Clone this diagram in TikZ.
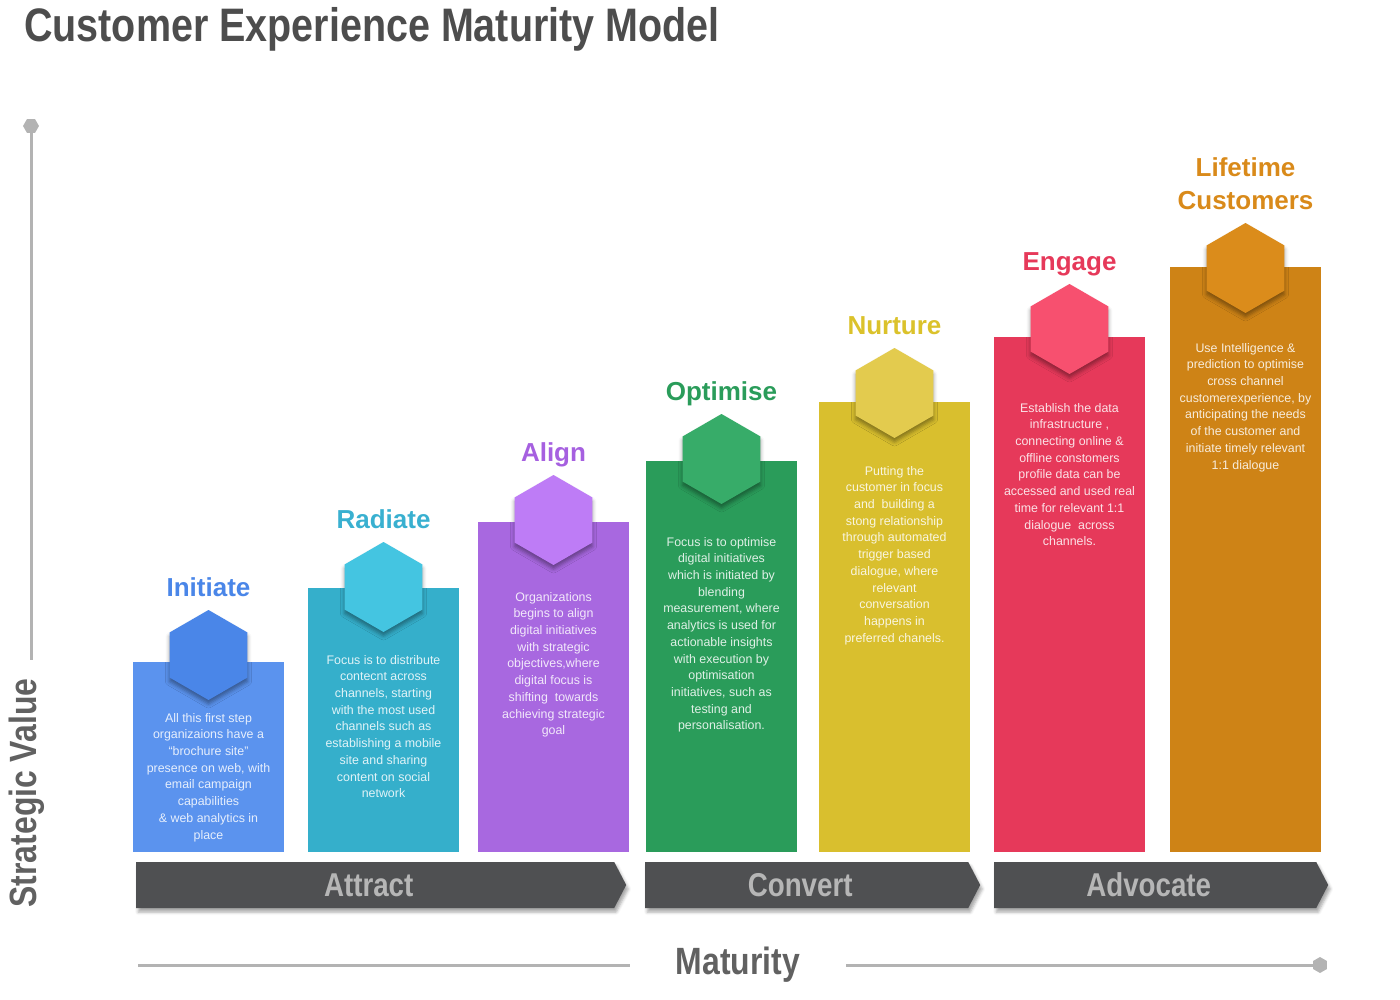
\documentclass[tikz,border=0pt]{standalone}
\usepackage{fontspec}
\setmainfont{Liberation Sans}
\newfontfamily\narrowfont{Liberation Sans}[FakeStretch=0.84]
\usepackage{tikz}
\usetikzlibrary{positioning, shapes.geometric, shapes.symbols, shadows.blur}
\definecolor{barblue}{HTML}{5B93EE}
\definecolor{hexblue}{HTML}{4A86E8}
\definecolor{barcyan}{HTML}{35AFCB}
\definecolor{hexcyan}{HTML}{44C5E1}
\definecolor{headcyan}{HTML}{39B0D0}
\definecolor{barpurple}{HTML}{A868E0}
\definecolor{hexpurple}{HTML}{BE7CF6}
\definecolor{headpurple}{HTML}{A660E0}
\definecolor{bargreen}{HTML}{2A9C5A}
\definecolor{hexgreen}{HTML}{37AC69}
\definecolor{baryellow}{HTML}{D9BF2E}
\definecolor{hexyellow}{HTML}{E3CB4E}
\definecolor{headyellow}{HTML}{DBC22B}
\definecolor{barred}{HTML}{E6395A}
\definecolor{hexred}{HTML}{F7506F}
\definecolor{barorange}{HTML}{CE8316}
\definecolor{hexorange}{HTML}{DB8C1B}
\definecolor{headorange}{HTML}{D98A1A}
\definecolor{stagegray}{HTML}{4F5052}
\definecolor{stagetext}{HTML}{B6B6B6}
\definecolor{axisgray}{HTML}{B3B3B3}
\definecolor{titlegray}{HTML}{4D4D4D}

\begin{document}
\begin{tikzpicture}[
  x=1pt, y=-1pt,
  bar/.style={anchor=south, minimum width=151pt, inner sep=0, outer sep=0},
  hex/.style={regular polygon, regular polygon sides=6, shape border rotate=30, minimum size=90pt, inner sep=0,
    blur shadow={shadow xshift=0pt, shadow yshift=-4pt, shadow opacity=40, shadow blur radius=4pt}},
  head/.style={font=\fontsize{26}{33}\selectfont\bfseries, align=center, text depth=0pt},
  body/.style={anchor=north, inner sep=0, align=center, text=white, text opacity=0.85,
    font=\fontsize{12.4}{16.7}\selectfont},
  stage/.style={signal, signal to=east, signal pointer angle=125, fill=stagegray, anchor=west,
    minimum height=46pt, inner sep=0, text=stagetext, font=\narrowfont\fontsize{33}{33}\selectfont\bfseries,
    execute at end node={\hspace*{13pt}},
    blur shadow={shadow xshift=2pt, shadow yshift=-4pt, shadow opacity=35, shadow blur radius=3pt}},
  axisline/.style={draw=axisgray, line width=3pt},
  dot/.style={regular polygon, regular polygon sides=6, minimum size=16pt, inner sep=0, fill=axisgray},
  axislabel/.style={font=\narrowfont\fontsize{38}{38}\selectfont\bfseries, text=black!62},
]
\useasboundingbox (0,0) rectangle (1400,1000);

% title
\node[anchor=base west, inner sep=0, text=titlegray, font=\narrowfont\fontsize{47}{47}\selectfont\bfseries] (title) at (24,42)
  {Customer Experience Maturity Model};

% Initiate
\node[bar, fill=barblue, minimum height=190pt] (initbar) at (208.5,852) {};
\node[hex, fill=hexblue] (inithex) at (208.5,655) {};
\node[head, text=hexblue, above=10pt of inithex] (inithead) {Initiate};
\node[body] (inittext) at (208.5,713) {All this first step\\organizaions have a\\“brochure site”\\presence on web, with\\email campaign\\capabilities\\\& web analytics in\\place};

% Radiate
\node[bar, fill=barcyan, minimum height=264pt] (radbar) at (383.5,852) {};
\node[hex, fill=hexcyan] (radhex) at (383.5,587) {};
\node[head, text=headcyan, above=10pt of radhex] (radhead) {Radiate};
\node[body] (radtext) at (383.5,655) {Focus is to distribute\\contecnt across\\channels, starting\\with the most used\\channels such as\\establishing a mobile\\site and sharing\\content on social\\network};

% Align
\node[bar, fill=barpurple, minimum height=330pt] (alibar) at (553.5,852) {};
\node[hex, fill=hexpurple] (alihex) at (553.5,520) {};
\node[head, text=headpurple, above=10pt of alihex] (alihead) {Align};
\node[body] (alitext) at (553.5,592) {Organizations\\begins to align\\digital initiatives\\with strategic\\objectives,where\\digital focus is\\shifting\ \ towards\\achieving strategic\\goal};

% Optimise
\node[bar, fill=bargreen, minimum height=391pt] (optbar) at (721.5,852) {};
\node[hex, fill=hexgreen] (opthex) at (721.5,459) {};
\node[head, text=bargreen, above=10pt of opthex] (opthead) {Optimise};
\node[body] (opttext) at (721.5,537) {Focus is to optimise\\digital initiatives\\which is initiated by\\blending\\measurement, where\\analytics is used for\\actionable insights\\with execution by\\optimisation\\initiatives, such as\\testing and\\personalisation.};

% Nurture
\node[bar, fill=baryellow, minimum height=450pt] (nurbar) at (894.5,852) {};
\node[hex, fill=hexyellow] (nurhex) at (894.5,393) {};
\node[head, text=headyellow, above=10pt of nurhex] (nurhead) {Nurture};
\node[body] (nurtext) at (894.5,466) {Putting the\\customer in focus\\and\ \ building a\\stong relationship\\through automated\\trigger based\\dialogue, where\\relevant\\conversation\\happens in\\preferred chanels.};

% Engage
\node[bar, fill=barred, minimum height=515pt] (engbar) at (1069.5,852) {};
\node[hex, fill=hexred] (enghex) at (1069.5,329) {};
\node[head, text=barred, above=10pt of enghex] (enghead) {Engage};
\node[body] (engtext) at (1069.5,403) {Establish the data\\infrastructure ,\\connecting online \&\\offline constomers\\profile data can be\\accessed and used real\\time for relevant 1:1\\dialogue\ \ across\\channels.};

% Lifetime Customers
\node[bar, fill=barorange, minimum height=585pt] (lifebar) at (1245.5,852) {};
\node[hex, fill=hexorange] (lifehex) at (1245.5,268) {};
\node[head, text=headorange, above=10pt of lifehex] (lifehead) {Lifetime\\Customers};
\node[body] (lifetext) at (1245.5,343) {Use Intelligence \&\\prediction to optimise\\cross channel\\customerexperience, by\\anticipating the needs\\of the customer and\\initiate timely relevant\\1:1 dialogue};

% stages
\node[stage, minimum width=490pt] (attract) at (136,885) {Attract};
\node[stage, minimum width=335pt] (convert) at (645,885) {Convert};
\node[stage, minimum width=334pt] (advocate) at (994,885) {Advocate};

% axes
\node[dot] (svdot) at (31,126) {};
\node[axislabel, rotate=90, inner xsep=18pt] (sv) at (27,793) {Strategic Value};
\draw[axisline] (svdot) -- (svdot |- sv.east);

\coordinate (mstart) at (138,965);
\node[axislabel, minimum width=216pt, inner ysep=0] (mat) at (738,965) {Maturity};
\node[dot, shape border rotate=30] (matdot) at (1320,965) {};
\draw[axisline] (mstart) -- (mat.west);
\draw[axisline] (mat.east) -- (matdot);
\end{tikzpicture}
\end{document}
